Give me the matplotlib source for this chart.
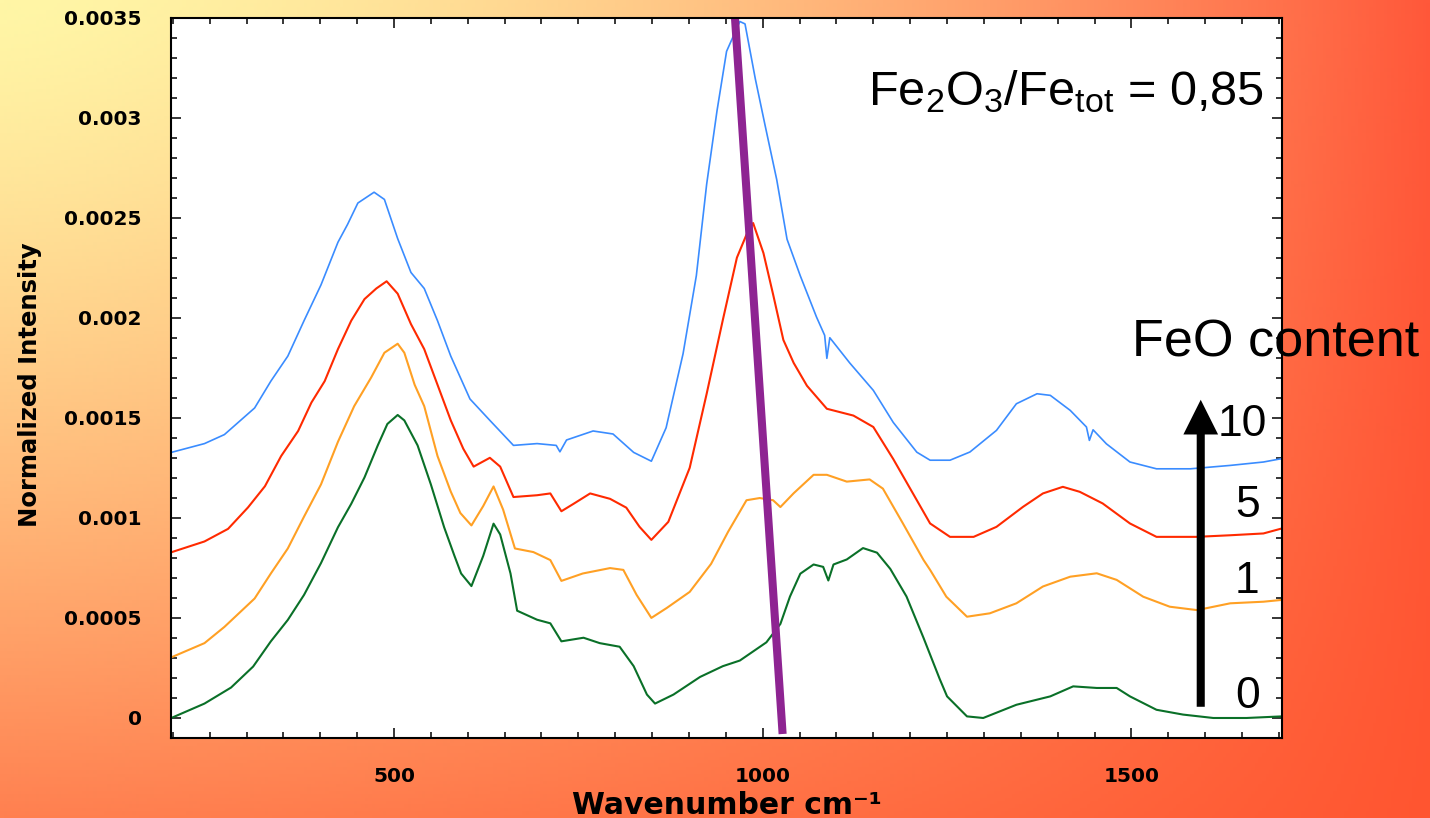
import numpy as np
import matplotlib
matplotlib.use('Agg')
import matplotlib.pyplot as plt
from matplotlib.ticker import MultipleLocator, FuncFormatter

# Raman spectra; intensities are in units of 1e-3
SCALE = 1e-3

feo10_wn = [198, 243, 270, 311, 333, 356, 378, 401, 424, 437, 451, 473, 487, 505, 523, 541,
            559, 577, 603, 630, 662, 694, 720, 725, 734, 770, 797, 825, 849, 869, 892, 910,
            924, 938, 951, 962, 969, 976, 990, 1003, 1019, 1033, 1051, 1073, 1084, 1087, 1091,
            1118, 1150, 1177, 1209, 1227, 1254, 1281, 1317, 1344, 1372, 1390, 1417, 1439, 1443,
            1448, 1466, 1498, 1534, 1580, 1634, 1679, 1704]
feo10_int = [1.327, 1.371, 1.416, 1.549, 1.683, 1.808, 1.985, 2.164, 2.377, 2.466, 2.573, 2.627,
             2.591, 2.395, 2.226, 2.146, 1.985, 1.808, 1.594, 1.487, 1.362, 1.371, 1.362, 1.330,
             1.389, 1.434, 1.419, 1.327, 1.283, 1.450, 1.820, 2.210, 2.667, 3.033, 3.331, 3.422,
             3.480, 3.468, 3.193, 2.965, 2.690, 2.392, 2.209, 2.003, 1.912, 1.797, 1.900, 1.774,
             1.637, 1.477, 1.328, 1.288, 1.288, 1.329, 1.437, 1.570, 1.620, 1.612, 1.537, 1.454,
             1.387, 1.440, 1.370, 1.279, 1.245, 1.245, 1.262, 1.279, 1.296]

feo5_wn = [198, 243, 275, 302, 325, 347, 370, 388, 406, 424, 442, 460, 476, 490, 505, 523, 541,
           559, 577, 594, 608, 630, 644, 662, 694, 712, 727, 743, 766, 793, 815, 833, 849, 872,
           901, 924, 946, 965, 978, 987, 1001, 1014, 1028, 1042, 1060, 1087, 1123, 1150, 1177,
           1209, 1227, 1254, 1286, 1317, 1353, 1380, 1407, 1430, 1461, 1498, 1534, 1588, 1634,
           1679, 1704]
feo5_int = [0.828, 0.882, 0.945, 1.052, 1.158, 1.309, 1.434, 1.576, 1.683, 1.843, 1.985, 2.093,
            2.146, 2.182, 2.120, 1.968, 1.843, 1.665, 1.487, 1.345, 1.256, 1.300, 1.256, 1.104,
            1.113, 1.122, 1.033, 1.069, 1.122, 1.095, 1.051, 0.955, 0.890, 0.980, 1.250, 1.620,
            1.990, 2.300, 2.415, 2.473, 2.323, 2.118, 1.889, 1.774, 1.660, 1.545, 1.511, 1.454,
            1.294, 1.088, 0.972, 0.905, 0.905, 0.955, 1.055, 1.122, 1.155, 1.130, 1.072, 0.972,
            0.905, 0.905, 0.913, 0.922, 0.947]

feo1_wn = [198, 243, 270, 311, 333, 356, 378, 401, 424, 446, 469, 487, 505, 514, 528, 541, 559,
           577, 590, 605, 621, 635, 648, 664, 689, 712, 727, 756, 793, 811, 829, 849, 870, 901,
           930, 953, 978, 996, 1014, 1024, 1042, 1069, 1087, 1114, 1145, 1163, 1190, 1218, 1227,
           1249, 1277, 1308, 1344, 1380, 1417, 1453, 1480, 1516, 1552, 1589, 1634, 1679, 1704]
feo1_int = [0.303, 0.374, 0.455, 0.597, 0.722, 0.847, 1.006, 1.167, 1.380, 1.558, 1.701, 1.825,
            1.870, 1.825, 1.665, 1.558, 1.309, 1.131, 1.024, 0.962, 1.059, 1.157, 1.041, 0.847,
            0.829, 0.789, 0.685, 0.722, 0.749, 0.740, 0.615, 0.500, 0.550, 0.630, 0.770, 0.930,
            1.088, 1.099, 1.088, 1.054, 1.123, 1.215, 1.215, 1.181, 1.192, 1.146, 0.973, 0.790,
            0.740, 0.606, 0.506, 0.523, 0.573, 0.657, 0.706, 0.723, 0.690, 0.606, 0.556, 0.539,
            0.573, 0.581, 0.590]

feo0_wn = [198, 243, 279, 309, 333, 356, 378, 401, 424, 442, 460, 478, 491, 505, 514, 532, 550,
           568, 582, 591, 605, 621, 635, 644, 658, 667, 694, 712, 727, 757, 779, 806, 825, 843,
           854, 879, 915, 946, 969, 1005, 1024, 1037, 1051, 1069, 1082, 1089, 1096, 1114, 1136,
           1155, 1173, 1195, 1218, 1240, 1250, 1277, 1299, 1344, 1390, 1421, 1453, 1480, 1498,
           1534, 1570, 1611, 1656, 1704]
feo0_int = [0.000, 0.072, 0.152, 0.257, 0.383, 0.490, 0.615, 0.774, 0.953, 1.070, 1.202, 1.362,
            1.469, 1.514, 1.487, 1.362, 1.167, 0.953, 0.810, 0.722, 0.659, 0.810, 0.971, 0.917,
            0.722, 0.536, 0.491, 0.473, 0.383, 0.401, 0.374, 0.356, 0.259, 0.117, 0.072, 0.117,
            0.205, 0.259, 0.287, 0.378, 0.470, 0.607, 0.721, 0.767, 0.755, 0.687, 0.767, 0.792,
            0.849, 0.826, 0.745, 0.607, 0.401, 0.195, 0.108, 0.008, 0.000, 0.066, 0.108, 0.158,
            0.150, 0.150, 0.108, 0.041, 0.017, 0.000, 0.000, 0.008]

# purple guide line through the main band, and the FeO arrow
guide_wn = [962, 1027]
guide_int = [3.52, -0.08]
arrow_wn = 1594
arrow_int = [0.056, 1.59]

feo_labels = ['10', '5', '1', '0']

# background gradient (corner colours, top-left / top-right / bottom-left / bottom-right)
c_tl = np.array([255, 246, 166]) / 255
c_tr = np.array([255, 88, 58]) / 255
c_bl = np.array([255, 128, 80]) / 255
c_br = np.array([255, 85, 48]) / 255

plt.rcParams['font.family'] = 'DejaVu Sans'
plt.rcParams['font.weight'] = 'bold'
plt.rcParams['mathtext.fontset'] = 'custom'
plt.rcParams['mathtext.rm'] = 'Liberation Sans:weight=normal'
plt.rcParams['mathtext.it'] = 'Liberation Sans:weight=normal'
plt.rcParams['mathtext.default'] = 'rm'

fig = plt.figure(figsize=(14.3, 8.18), dpi=100)

bg = fig.add_axes([0, 0, 1, 1])
u = np.linspace(0, 1, 400)[None, :] ** 1.6
v = np.linspace(0, 1, 240)[:, None] ** 1.3
grad = ((1 - u) * (1 - v))[..., None] * c_tl + (u * (1 - v))[..., None] * c_tr \
    + ((1 - u) * v)[..., None] * c_bl + (u * v)[..., None] * c_br
bg.imshow(grad, aspect='auto', extent=[0, 1, 0, 1], origin='upper')
bg.set_axis_off()

ax = fig.add_axes([171 / 1430, 1 - 738 / 818, 1111 / 1430, 720.5 / 818])
ax.set_facecolor('white')

series = [
    (feo10_wn, feo10_int, '#3a8cff', 1.2),
    (feo5_wn, feo5_int, '#ff2a00', 1.5),
    (feo1_wn, feo1_int, '#ffa024', 1.5),
    (feo0_wn, feo0_int, '#0a7028', 1.5),
]
for wn, inten, color, lw in series:
    ax.plot(wn, np.array(inten) * SCALE, color=color, lw=lw)

ax.plot(guide_wn, np.array(guide_int) * SCALE, color='#8e2492', lw=5.8,
        solid_capstyle='butt')

ax.annotate('', xy=(arrow_wn, arrow_int[1] * SCALE), xytext=(arrow_wn, arrow_int[0] * SCALE),
            arrowprops=dict(arrowstyle='simple,head_length=25,head_width=25,tail_width=5.8',
                            mutation_scale=1, fc='black', ec='none', shrinkA=0, shrinkB=0))

ax.set_xlim(197.6, 1704.2)
ax.set_ylim(-0.0001, 0.0035)

ax.xaxis.set_major_locator(MultipleLocator(500))
ax.xaxis.set_minor_locator(MultipleLocator(50))
ax.yaxis.set_major_locator(MultipleLocator(0.0005))
ax.yaxis.set_minor_locator(MultipleLocator(0.0001))
ax.yaxis.set_major_formatter(FuncFormatter(lambda val, pos: f'{val:.4f}'.rstrip('0').rstrip('.')))

ax.tick_params(which='both', direction='in', top=True, right=True, width=1.1, labelsize=14.5, pad=21)
ax.tick_params(which='major', length=7.5)
ax.tick_params(which='minor', length=4)
for s in ax.spines.values():
    s.set_linewidth(1.5)

fig.text(30 / 1430, 1 - 385 / 818, 'Normalized Intensity', rotation=90, ha='center', va='center',
         fontsize=17.5, fontweight='bold')
fig.text(727 / 1430, 1 - 814 / 818, 'Wavenumber cm⁻¹', ha='center', va='baseline',
         fontsize=21.5, fontweight='bold')

ax.text(0.627, 0.878, r'Fe$_2$O$_3$/Fe$_{tot}$ = 0,85', transform=ax.transAxes,
        family='Liberation Sans', fontweight='normal', fontsize=35, va='baseline', ha='left')
ax.text(0.865, 0.5296, 'FeO content', transform=ax.transAxes, family='Liberation Sans',
        fontweight='normal', fontsize=37.5, va='baseline', ha='left', clip_on=False)

label_x = [0.9424, 0.9577, 0.9577, 0.9577]
label_y = [0.4185, 0.3074, 0.201, 0.0417]
for txt, lx, ly in zip(feo_labels, label_x, label_y):
    ax.text(lx, ly, txt, transform=ax.transAxes, family='Liberation Sans', fontweight='normal',
            fontsize=32, va='baseline', ha='left', clip_on=False)

fig.savefig('out.png', dpi=100)
